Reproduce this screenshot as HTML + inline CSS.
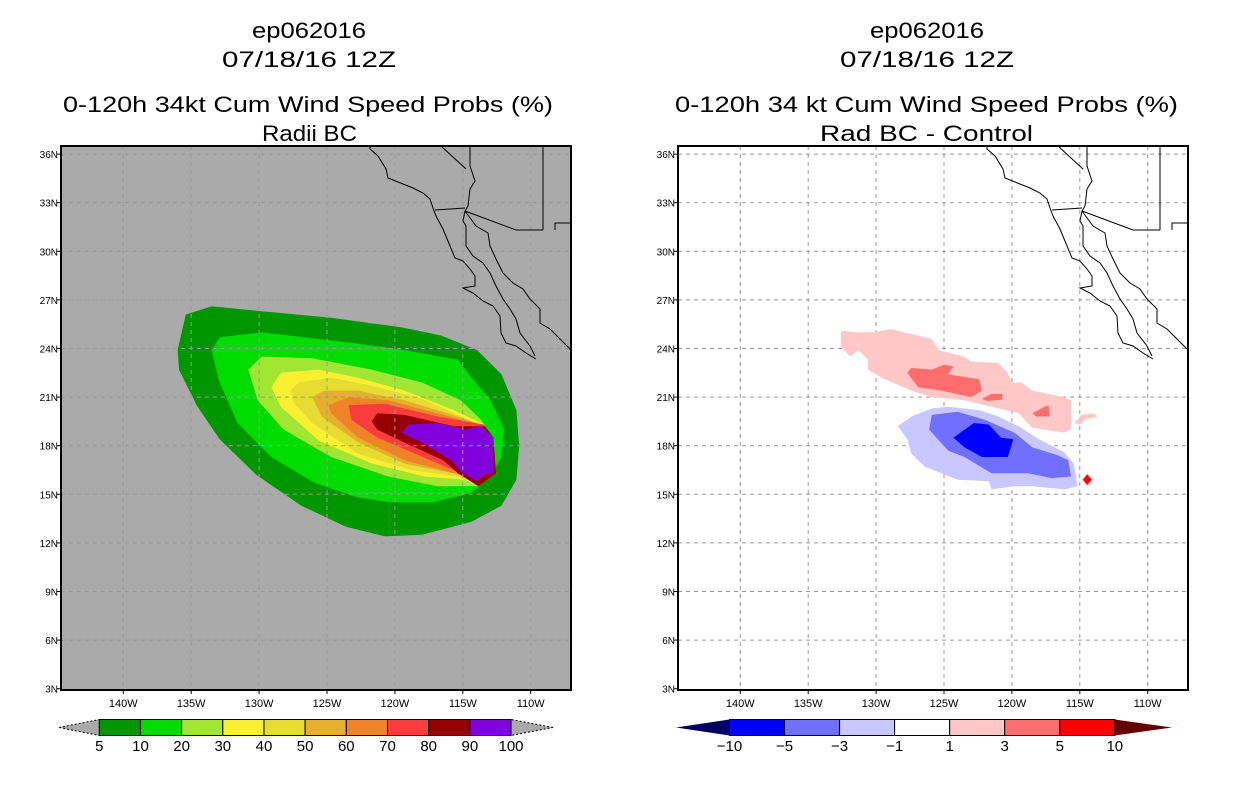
<!DOCTYPE html>
<html><head><meta charset="utf-8">
<style>
html,body{margin:0;padding:0;background:#fff;}
svg{display:block;font-family:"Liberation Sans",sans-serif;}
</style></head>
<body>
<svg id="fig" width="1236" height="800" viewBox="0 0 1236 800" xmlns="http://www.w3.org/2000/svg">
  <rect width="1236" height="800" fill="#fff"/>
  <g font-size="22" fill="#000">
    <text x="252" y="38" textLength="114" lengthAdjust="spacingAndGlyphs">ep062016</text>
    <text x="222" y="67" textLength="174" lengthAdjust="spacingAndGlyphs">07/18/16 12Z</text>
    <text x="63" y="112" textLength="490" lengthAdjust="spacingAndGlyphs">0-120h 34kt Cum Wind Speed Probs (%)</text>
    <text x="262" y="141" textLength="95" lengthAdjust="spacingAndGlyphs">Radii BC</text>
  </g>
  <g font-size="22" fill="#000">
    <text x="870" y="38" textLength="114" lengthAdjust="spacingAndGlyphs">ep062016</text>
    <text x="840" y="67" textLength="174" lengthAdjust="spacingAndGlyphs">07/18/16 12Z</text>
    <text x="675" y="112" textLength="503" lengthAdjust="spacingAndGlyphs">0-120h 34 kt Cum Wind Speed Probs (%)</text>
    <text x="820" y="141" textLength="213" lengthAdjust="spacingAndGlyphs">Rad BC - Control</text>
  </g>
  <g id="left"></g>
  <g id="right"></g>
  <g id="cbl"></g>
  <g id="cbr"></g>
</svg>
<script>
// ---- data ----
const latTicks = [36,33,30,27,24,21,18,15,12,9,6,3];
const lonTicks = [140,135,130,125,120,115,110];
const probLevels = [5,10,20,30,40,50,60,70,80,90,100];
const probColors = ["#009600","#00dc00","#a0e632","#faf032","#e6dc32","#e6af2d","#f08228","#fa3c3c","#960000","#8200dc"];
const diffLevels = [-10,-5,-3,-1,1,3,5,10];
const diffColors = ["#0000ff","#7070ff","#c8c8ff","#ffffff","#ffc8c8","#ff6e6e","#ff0000"];
const prob5 = [[136.0,23.9],[135.4,26.1],[133.5,26.6],[129.8,26.3],[124.7,25.9],[119.5,25.3],[116.6,24.8],[113.95,23.9],[112.15,22.4],[111.05,20.2],[110.85,18.0],[111.05,15.9],[112.15,14.3],[114.35,13.3],[118.0,12.5],[120.7,12.4],[123.6,13.0],[126.9,14.3],[130.2,16.2],[132.9,18.4],[134.6,20.5],[135.9,22.7]];
const prob10 = [[133.5,23.9],[132.9,24.7],[129.8,25.0],[126.7,24.7],[122.7,24.3],[119.3,23.9],[115.35,23.3],[114.35,22.2],[112.95,20.8],[111.95,19.0],[112.15,17.3],[112.95,16.1],[114.35,15.1],[117.2,14.5],[120.3,14.5],[122.7,14.8],[125.9,15.7],[129.1,17.3],[131.6,19.4],[133.0,22.1]];
const prob20 = [[130.8,22.7],[129.8,23.5],[126.1,23.4],[121.7,22.7],[118.0,21.9],[115.15,20.8],[113.65,19.6],[112.75,18.5],[112.55,16.3],[113.85,15.5],[116.85,15.5],[120.5,16.1],[124.7,17.3],[128.2,19.0],[130.1,20.8]];
const prob30 = [[129.1,21.6],[128.4,22.5],[125.6,22.7],[122.7,22.2],[119.3,21.4],[115.65,20.2],[113.65,19.4],[112.75,18.5],[112.55,16.3],[113.85,15.5],[114.85,15.9],[117.8,16.1],[121.7,16.9],[125.6,18.3],[128.4,20.4]];
const prob40 = [[127.7,21.4],[127.1,21.9],[124.7,22.2],[121.7,21.7],[118.0,20.9],[114.35,19.5],[112.75,18.5],[112.55,16.3],[113.85,15.5],[115.35,16.1],[118.8,16.5],[122.7,17.5],[126.1,19.4],[127.4,20.6]];
const prob50 = [[126.1,21.0],[125.2,21.4],[122.7,21.4],[119.3,20.8],[115.35,19.8],[113.65,19.3],[112.75,18.5],[112.55,16.3],[113.85,15.5],[115.15,16.2],[119.3,16.9],[122.7,18.2],[125.4,19.8]];
const prob60 = [[124.9,20.5],[123.4,21.0],[120.5,20.8],[116.45,19.9],[113.65,19.3],[112.75,18.5],[112.55,16.3],[113.85,15.5],[115.15,16.2],[119.3,17.1],[122.7,18.5],[124.7,20.0]];
const prob70 = [[123.4,20.5],[120.8,20.6],[116.85,19.8],[113.45,19.3],[112.75,18.5],[112.55,16.3],[113.85,15.5],[115.15,16.3],[118.5,17.5],[121.3,18.5],[123.2,19.6]];
const prob80 = [[121.7,19.5],[121.3,20.0],[119.3,19.9],[115.65,19.2],[113.35,19.2],[112.75,18.5],[112.55,16.3],[113.85,15.5],[115.35,16.3],[116.45,17.1],[119.3,18.2],[121.3,19.0]];
const prob90 = [[119.5,18.8],[119.0,19.3],[116.85,19.4],[114.85,19.0],[113.65,19.2],[112.75,18.5],[112.75,16.3],[113.45,16.2],[113.95,15.8],[115.15,16.4],[115.85,17.1],[118.0,18.2]];
const diffPos1 = [[132.6,25.0],[132.4,25.1],[131.6,25.0],[130.1,25.0],[128.9,25.2],[128.0,25.0],[125.9,24.6],[125.4,23.9],[123.5,23.5],[123.0,23.2],[121.0,23.1],[120.3,22.5],[120.0,21.9],[119.3,21.9],[118.5,21.4],[116.15,21.0],[115.65,20.8],[115.65,19.0],[116.15,18.8],[118.5,19.1],[119.5,20.0],[123.5,20.8],[125.9,21.0],[127.4,21.4],[129.6,22.2],[130.6,22.7],[130.6,23.3],[131.3,23.9],[131.9,23.5],[132.6,24.1]];
const diffPos1b = [[115.4,19.4],[114.9,19.9],[114.0,20.0],[113.7,19.8],[114.6,19.6],[115.0,19.3]];
const diffPos3 = [[127.7,22.5],[127.4,22.8],[125.9,22.7],[125.0,23.0],[124.3,22.9],[124.7,22.4],[122.4,22.1],[122.2,21.4],[123.0,21.0],[125.2,21.4],[126.9,21.6]];
const diffPos3b = [[122.2,20.9],[121.5,21.2],[120.7,21.2],[120.7,20.85],[121.8,20.75]];
const diffPos3c = [[118.5,20.0],[117.6,20.4],[117.3,20.5],[117.2,19.8],[118.2,19.8]];
const diffNeg1 = [[128.4,19.2],[127.4,19.8],[125.9,20.3],[124.7,20.4],[122.4,20.2],[121.0,19.8],[119.5,19.2],[118.0,18.4],[116.15,17.6],[115.45,16.9],[115.15,15.5],[116.15,15.3],[118.5,15.5],[119.8,15.5],[121.5,15.3],[121.7,15.8],[124.0,15.9],[126.4,16.7],[127.4,17.5],[127.7,18.4]];
const diffNeg3 = [[126.1,19.0],[125.9,19.9],[124.0,20.1],[122.0,19.6],[119.8,18.8],[118.5,17.9],[116.6,17.4],[115.85,17.1],[115.65,16.1],[117.1,16.0],[118.8,16.3],[121.5,16.3],[123.5,17.3],[124.7,17.7]];
const diffNeg5 = [[124.3,18.5],[122.8,19.4],[121.7,19.3],[120.8,18.5],[119.9,18.4],[120.3,17.3],[122.2,17.3],[123.5,17.9]];
const diffPos5 = [[114.45,15.9]];

// ---- basemap (coastline offsets inside plot box) ----
const coastLines = [
 [[309,0],[309,3],[317,10],[325,23],[327,32],[352,42],[362,47],[369,53],[372,62],[375,70],[382,83],[389,100],[394,112],[402,115],[409,123],[414,130],[414,140],[402,142],[412,147],[422,155],[432,160],[439,170],[440,187],[445,197],[455,200],[465,207],[475,213]],
 [[402,75],[405,80],[405,100],[412,110],[422,117],[429,127],[435,140],[442,153],[449,163],[455,173],[459,187],[469,200],[474,210]],
 [[404,65],[415,80],[427,87],[429,100],[435,113],[442,127],[452,137],[462,143],[469,153],[479,163],[479,177],[489,183],[499,193],[510,204]],
 [[409,0],[409,20],[414,35],[409,43],[407,60],[404,65],[402,75]],
 [[374,64],[404,62]],
 [[404,65],[455,84],[482,84]],
 [[482,0],[482,84]],
 [[494,84],[494,77],[510,77]],
 [[380,0],[405,23]]
];

const NS="http://www.w3.org/2000/svg";
const PW=510, PH=544, TOP=146;
function mk(tag, attrs, parent){const e=document.createElementNS(NS,tag);for(const k in attrs)e.setAttribute(k,attrs[k]);parent.appendChild(e);return e;}
function xOf(lon){return 62.3+(140-lon)*13.58;}      // relative to panel plot-left
function yOf(lat){return (36.5-lat)*16.2;}
function pts(poly,ox){return poly.map(p=>(ox+xOf(p[0])).toFixed(1)+","+(TOP+yOf(p[1])).toFixed(1)).join(" ");}

function panel(g, ox, bg, gridW){
  const bgR=mk('rect',{x:ox,y:TOP,width:PW,height:PH,fill:bg},g);
  
  
}
function drawGrid(g, ox){
  const gg=mk('g',{stroke:'#9a9a9a','stroke-width':1,'stroke-dasharray':'4,4',fill:'none'},g);
  
  
  lonTicks.forEach(l=>{const x=ox+xOf(l);mk('line',{x1:x,y1:TOP,x2:x,y2:TOP+PH},gg);});
  latTicks.forEach(l=>{const y=TOP+yOf(l);if(y>TOP+2&&y<TOP+PH-2)mk('line',{x1:ox,y1:y,x2:ox+PW,y2:y},gg);});
}
function drawCoast(g, ox){
  const cg=mk('g',{stroke:'#000','stroke-width':1,fill:'none'},g);
  
  
  coastLines.forEach(l=>mk('polyline',{points:l.map(p=>(ox+p[0])+","+(TOP+p[1])).join(" ")},cg));
}
function drawAxes(g, ox){
  const fr=mk('rect',{x:ox,y:TOP,width:PW,height:PH,fill:'none',stroke:'#000','stroke-width':2},g);
  
  
  latTicks.forEach(l=>{
    const y=TOP+yOf(l);
    mk('line',{x1:ox-4,y1:y,x2:ox,y2:y,stroke:'#000'},g);
    const t=mk('text',{x:ox-3,y:y+4,'font-size':10,'text-anchor':'end'},g);
    t.textContent=l+"N";
    
    
  });
  lonTicks.forEach(l=>{
    const x=ox+xOf(l);
    mk('line',{x1:x,y1:TOP+PH,x2:x,y2:TOP+PH+4,stroke:'#000'},g);
    const t=mk('text',{x:x,y:TOP+PH+17,'font-size':11,'text-anchor':'middle'},g);
    t.textContent=l+"W";
    
    
  });
}
function fillPoly(g, ox, poly, color, name){
  const p=mk('polygon',{points:pts(poly,ox),fill:color},g);
  
  
}

// Left panel
const L=document.getElementById('left'), LX=61;
panel(L,LX,'#aaaaaa');
[prob5,prob10,prob20,prob30,prob40,prob50,prob60,prob70,prob80,prob90].forEach((poly,i)=>{
  fillPoly(L,LX,poly,probColors[i],'prob-contour-'+probLevels[i]);
});
drawGrid(L,LX);
drawCoast(L,LX);
drawAxes(L,LX);

// Right panel
const R=document.getElementById('right'), RX=678;
panel(R,RX,'#ffffff');
drawGrid(R,RX);
fillPoly(R,RX,diffPos1,diffColors[4],'diff-positive-1');
fillPoly(R,RX,diffPos1b,diffColors[4],'diff-positive-1-small');
fillPoly(R,RX,diffPos3,diffColors[5],'diff-positive-3');
fillPoly(R,RX,diffPos3b,diffColors[5],'diff-positive-3-small');
fillPoly(R,RX,diffPos3c,diffColors[5],'diff-positive-3-east');
fillPoly(R,RX,diffNeg1,diffColors[2],'diff-negative-1');
fillPoly(R,RX,diffNeg3,diffColors[1],'diff-negative-3');
fillPoly(R,RX,diffNeg5,diffColors[0],'diff-negative-5');
diffPos5.forEach(p=>{
  const cx=RX+xOf(p[0]), cy=TOP+yOf(p[1]);
  const d=mk('polygon',{points:`${cx},${cy-6} ${cx+5},${cy} ${cx},${cy+6} ${cx-5},${cy}`,fill:'#ff0000',stroke:'#ffc8c8','stroke-width':1},R);
  
  
});
drawCoast(R,RX);
drawAxes(R,RX);

// Colorbars
function colorbar(g, x0, x1, tipL, tipR, colors, labels, lcol, rcol, dash){
  const y0=719.5,y1=735.5,ym=(y0+y1)/2, w=(x1-x0)/colors.length;
  const tl=mk('polygon',{points:`${tipL},${ym} ${x0},${y0} ${x0},${y1}`,fill:lcol,stroke:dash?'#000':'none','stroke-dasharray':dash?'2,2':'none'},g);
  
  
  const tr=mk('polygon',{points:`${tipR},${ym} ${x1},${y0} ${x1},${y1}`,fill:rcol,stroke:dash?'#000':'none','stroke-dasharray':dash?'2,2':'none'},g);
  
  
  colors.forEach((c,i)=>{
    const r=mk('rect',{x:x0+i*w,y:y0,width:w,height:y1-y0,fill:c,stroke:'#000','stroke-width':1},g);
    
    
  });
  labels.forEach((lab,i)=>{
    const t=mk('text',{x:x0+i*w,y:751,'font-size':15,'text-anchor':'middle'},g);
    t.textContent=String(lab).replace('-','\u2212');
    
    
  });
}
colorbar(document.getElementById('cbl'),99.3,511,59,553,probColors,probLevels,'#aaaaaa','#aaaaaa',true);
colorbar(document.getElementById('cbr'),729.5,1114.8,676,1172,diffColors,diffLevels,'#000064','#640000',false);
</script>
</body></html>
